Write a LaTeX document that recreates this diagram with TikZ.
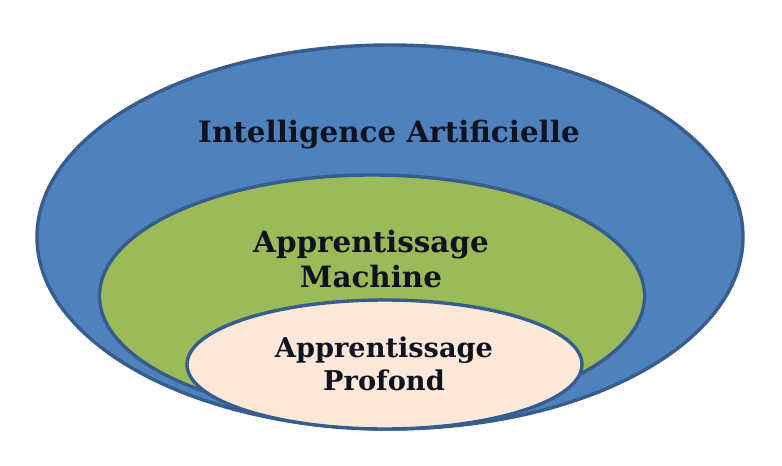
\documentclass[tikz,border=0pt]{standalone}
\usepackage{fontspec}
\usetikzlibrary{shapes.geometric}
\newfontfamily\lblfont{DejaVu Serif}
\definecolor{outline}{HTML}{375C8E}
\definecolor{aiblue}{HTML}{4F81BD}
\definecolor{mlgreen}{HTML}{9BBB59}
\definecolor{dlbeige}{HTML}{FCE8D9}
\definecolor{txt}{HTML}{10131F}
\tikzset{
  ring/.style={ellipse, draw=outline, line width=3.4bp, inner sep=0pt, outer sep=0pt},
  lbl/.style={font=\lblfont\bfseries\fontsize{29.5}{36}\selectfont, text=txt, align=center, inner sep=0pt, anchor=base},
}
\begin{document}
\begin{tikzpicture}[x=1bp, y=-1bp]
\useasboundingbox[fill=white] (0,0) rectangle (782,466);
\node[ring, fill=aiblue, minimum width=706bp, minimum height=384bp] (ai) at (390,237) {};
\node[ring, fill=mlgreen, minimum width=545bp, minimum height=242bp] (ml) at (372,296) {};
\node[ring, fill=dlbeige, minimum width=395bp, minimum height=129bp] (dl) at (384.5,364.5) {};
\node[lbl] (tai) at (389,143) {Intelligence Artificielle};
\node[lbl] (tml) at (371,288) {Apprentissage\\Machine};
\node[lbl, font=\lblfont\bfseries\fontsize{27.3}{33}\selectfont] (tdl) at (384,390) {Apprentissage\\Profond};
\end{tikzpicture}
\end{document}
